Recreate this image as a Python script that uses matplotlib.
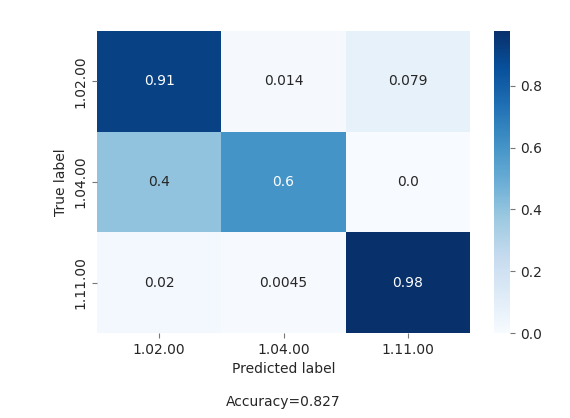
import numpy as np
import matplotlib
matplotlib.use("Agg")
import matplotlib.pyplot as plt
import seaborn as sns

labels = ["1.02.00", "1.04.00", "1.11.00"]
values = np.array([
    [0.91, 0.014, 0.079],
    [0.40, 0.60, 0.0],
    [0.02, 0.0045, 0.977],
])
annot_text = [
    ["0.91", "0.014", "0.079"],
    ["0.4", "0.6", "0.0"],
    ["0.02", "0.0045", "0.98"],
]
accuracy = 0.827

txt = "#262626"
fig = plt.figure(figsize=(5.7, 4.18), dpi=100)
ax = fig.add_axes([0.170, 0.2033, 0.655, 0.7227])
cax = fig.add_axes([0.867, 0.2033, 0.028, 0.7227])
sns.heatmap(values, annot=np.array(annot_text), fmt="", cmap="Blues",
            vmin=0, vmax=values.max(), ax=ax, cbar_ax=cax,
            xticklabels=labels, yticklabels=labels,
            annot_kws={"fontsize": 10})
ax.set_ylabel("True label", fontsize=10, color=txt)
ax.set_xlabel("Predicted label\n\nAccuracy={:.3f}".format(accuracy), fontsize=10, color=txt)
ax.tick_params(labelsize=10, labelcolor=txt, color="#777777")
plt.setp(ax.get_yticklabels(), rotation=90, va="center")
cax.tick_params(labelsize=10, labelcolor=txt, color="#777777")
cax.set_yticks([0.0, 0.2, 0.4, 0.6, 0.8])
fig.savefig("out.png", dpi=100)
